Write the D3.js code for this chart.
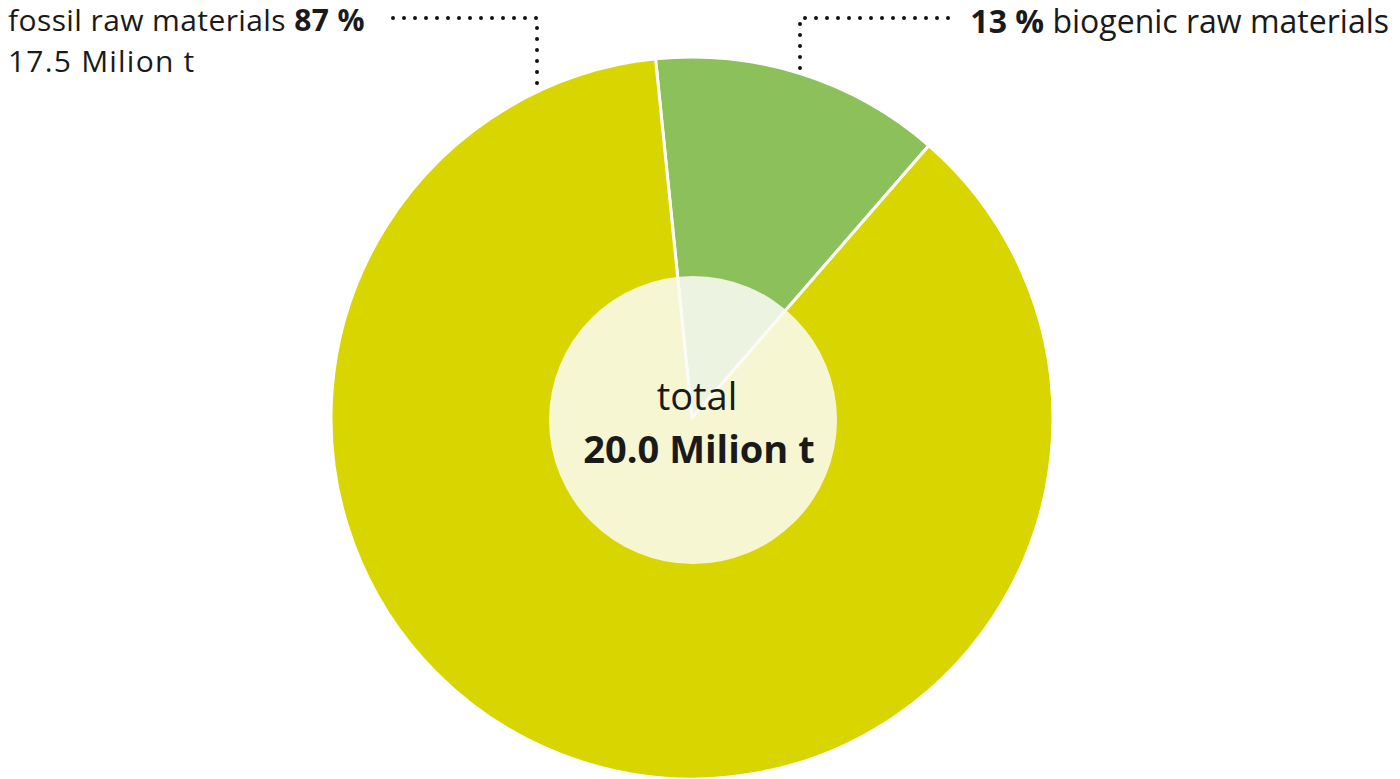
<!DOCTYPE html>
<html>
<head>
<meta charset="utf-8">
<script src="https://cdn.jsdelivr.net/npm/d3@7"></script>
<style>
  html, body { margin: 0; padding: 0; background: #ffffff; }
  svg { display: block; }
  text { font-family: "Open Sans", Lato, sans-serif; fill: #1a1a1a; }
</style>
</head>
<body>
<svg id="chart" width="1400" height="779"></svg>
<script>
// Raw material base: shares of the total (percent)
const categories = ["biogenic raw materials", "fossil raw materials"];
const shares = [13, 87];
const colors = ["#8cc05a", "#d8d500"];
const fossilTonnes = 17.5;   // million t
const totalTonnes = 20.0;    // million t

const cx = 692, cy = 418, R = 361;
const svg = d3.select("#chart");

// Pie starts slightly left of 12 o'clock so the biogenic wedge sits top-right
const start = -5.8 * Math.PI / 180;
const pie = d3.pie().sort(null).value(d => d.value)
  .startAngle(start).endAngle(start + 2 * Math.PI);
const data = categories.map((c, i) => ({ name: c, value: shares[i], color: colors[i] }));
const arcs = pie(data);
const arc = d3.arc().innerRadius(0).outerRadius(R);

const g = svg.append("g").attr("transform", `translate(${cx},${cy})`);
g.selectAll("path.slice").data(arcs).join("path")
  .attr("class", "slice")
  .attr("d", arc)
  .attr("fill", d => d.data.color)
  .attr("stroke", "#ffffff")
  .attr("stroke-width", 3)
  .attr("stroke-linejoin", "round");

// Translucent centre disc
svg.append("circle")
  .attr("cx", cx + 1).attr("cy", cy + 2).attr("r", 144)
  .attr("fill", "#fbfbf6").attr("fill-opacity", 0.86);

const fmt = d3.format(".1f");
svg.append("text").attr("x", cx + 5).attr("y", 410)
  .attr("text-anchor", "middle").attr("font-size", 38)
  .text("total");
svg.append("text").attr("x", cx + 7).attr("y", 463)
  .attr("text-anchor", "middle").attr("font-size", 38).attr("font-weight", 700)
  .text(`${fmt(totalTonnes)} Milion t`);

// Callout labels
const fossil = svg.append("text").attr("x", 8).attr("y", 31)
  .attr("font-size", 30).attr("letter-spacing", 0.4);
fossil.append("tspan").text(`${categories[1]} `);
fossil.append("tspan").attr("font-weight", 700).text(`${shares[1]} %`);
svg.append("text").attr("x", 8).attr("y", 72)
  .attr("font-size", 30).attr("letter-spacing", 1.2)
  .text(`${fmt(fossilTonnes)} Milion t`);

const bio = svg.append("text").attr("x", 1389).attr("y", 33)
  .attr("text-anchor", "end").attr("font-size", 32);
bio.append("tspan").attr("font-weight", 700).text(`${shares[0]} %`);
bio.append("tspan").text(` ${categories[0]}`);

// Dotted leader lines
const dots = (pts) => svg.append("path")
  .attr("d", d3.line()(pts))
  .attr("fill", "none").attr("stroke", "#111")
  .attr("stroke-width", 4).attr("stroke-linecap", "round")
  .attr("stroke-dasharray", "0 11");
dots([[393, 18], [537, 18], [537, 88]]);
dots([[948, 18], [800, 18], [800, 70]]);
</script>
</body>
</html>
